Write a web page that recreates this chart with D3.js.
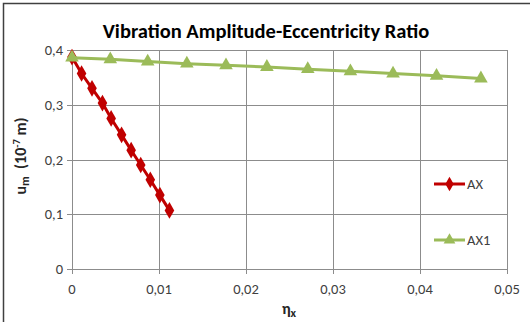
<!DOCTYPE html>
<html>
<head>
<meta charset="utf-8">
<script src="https://cdn.jsdelivr.net/npm/d3@7"></script>
<style>
  html, body { margin: 0; padding: 0; background: #fff; }
  svg { display: block; font-family: Carlito, Calibri, "Open Sans", sans-serif; }
</style>
</head>
<body>
<div id="chart"></div>
<script>
/* Vibration amplitude vs eccentricity ratio, two series (AX, AX1) */
var xTicks = [0, 0.01, 0.02, 0.03, 0.04, 0.05];
var yTicks = [0, 0.1, 0.2, 0.3, 0.4];

var axX = [0, 0.0011, 0.0023, 0.0035, 0.0045, 0.0057, 0.0068, 0.0079, 0.009, 0.0101, 0.0112];
var axY = [0.387, 0.357, 0.330, 0.303, 0.275, 0.245, 0.217, 0.190, 0.163, 0.135, 0.107];

var ax1X = [0, 0.0044, 0.0087, 0.0132, 0.0177, 0.0224, 0.0271, 0.032, 0.0369, 0.0419, 0.047];
var ax1Y = [0.386, 0.383, 0.379, 0.375, 0.372, 0.369, 0.365, 0.361, 0.357, 0.353, 0.348];

var series = [
  { name: 'AX', xs: axX, ys: axY, color: '#c00000', marker: d3.symbolDiamond, size: 80 },
  { name: 'AX1', xs: ax1X, ys: ax1Y, color: '#9bbb59', marker: d3.symbolTriangle, size: 80 }
];

(function () {
  var W = 530, H = 322;
  var fmt = function (v) { return v === 0 ? '0' : String(v).replace('.', ','); };

  var svg = d3.select('#chart').append('svg').attr('width', W).attr('height', H);

  /* outer chart frame (cropped at right/bottom) */
  svg.append('rect')
    .attr('x', 3.5).attr('y', 3.5).attr('width', W + 10).attr('height', H + 10)
    .attr('fill', '#fff').attr('stroke', '#404040').attr('stroke-width', 1.5);

  var x = d3.scaleLinear().domain([0, 0.05]).range([72, 507]);
  var y = d3.scaleLinear().domain([0, 0.4]).range([269, 50]);

  var grid = svg.append('g');
  grid.selectAll('line.v').data(xTicks).enter().append('line')
    .attr('x1', function (d) { return Math.round(x(d)) + 0.5; })
    .attr('x2', function (d) { return Math.round(x(d)) + 0.5; })
    .attr('y1', y(0.4)).attr('y2', y(0) + 5)
    .attr('stroke', '#8c8c8c').attr('stroke-width', 1);
  grid.selectAll('line.h').data(yTicks).enter().append('line')
    .attr('y1', function (d) { return Math.round(y(d)) + 0.5; })
    .attr('y2', function (d) { return Math.round(y(d)) + 0.5; })
    .attr('x1', x(0) - 5).attr('x2', x(0.05))
    .attr('stroke', '#8c8c8c').attr('stroke-width', 1);

  /* tick labels */
  svg.append('g').selectAll('text').data(xTicks).enter().append('text')
    .attr('x', function (d) { return x(d); }).attr('y', 294)
    .attr('text-anchor', 'middle')
    .style('font-size', '14.5px').style('fill', '#404040')
    .text(fmt);
  svg.append('g').selectAll('text').data(yTicks).enter().append('text')
    .attr('x', 63).attr('y', function (d) { return y(d) + 5; })
    .attr('text-anchor', 'end')
    .style('font-size', '14.5px').style('fill', '#404040')
    .text(fmt);

  /* title and axis titles */
  svg.append('text')
    .attr('x', 266).attr('y', 38).attr('text-anchor', 'middle')
    .style('font-size', '20.5px').style('font-weight', 'bold').style('fill', '#000')
    .text('Vibration Amplitude-Eccentricity Ratio');

  var xt = svg.append('text')
    .attr('x', 289).attr('y', 314).attr('text-anchor', 'middle')
    .style('font-size', '16px').style('font-weight', 'bold').style('fill', '#262626');
  xt.append('tspan').text('\u03b7');
  xt.append('tspan').attr('dy', 3).style('font-size', '12px').text('x');

  var yt = svg.append('text')
    .attr('transform', 'translate(26,156) rotate(-90)')
    .attr('text-anchor', 'middle')
    .style('font-size', '16px').style('font-weight', 'bold').style('fill', '#262626');
  yt.append('tspan').text('u');
  yt.append('tspan').attr('dy', 3).style('font-size', '12px').text('m');
  yt.append('tspan').attr('dy', -3).text('\u00a0 (10');
  yt.append('tspan').attr('dy', -6).style('font-size', '10.5px').text('-7');
  yt.append('tspan').attr('dy', 6).text(' m)');

  /* series */
  var line = d3.line()
    .x(function (d) { return x(d[0]); })
    .y(function (d) { return y(d[1]); });

  series.forEach(function (s) {
    var pts = s.xs.map(function (v, i) { return [v, s.ys[i]]; });
    var g = svg.append('g');
    g.append('path').datum(pts)
      .attr('d', line).attr('fill', 'none')
      .attr('stroke', s.color).attr('stroke-width', 3);
    g.selectAll('path.m').data(pts).enter().append('path')
      .attr('class', 'm')
      .attr('d', d3.symbol().type(s.marker).size(s.size))
      .attr('transform', function (d) { return 'translate(' + x(d[0]) + ',' + y(d[1]) + ')'; })
      .attr('fill', s.color);
  });

  /* legend */
  var legY = [184, 240];
  series.forEach(function (s, i) {
    var g = svg.append('g').attr('transform', 'translate(434,' + legY[i] + ')');
    g.append('line').attr('x1', 0).attr('x2', 31).attr('y1', 0).attr('y2', 0)
      .attr('stroke', s.color).attr('stroke-width', 3);
    g.append('path').attr('d', d3.symbol().type(s.marker).size(60))
      .attr('transform', 'translate(15.5,0)').attr('fill', s.color);
    g.append('text').attr('x', 33).attr('y', 5)
      .style('font-size', '14.5px').style('fill', '#404040').text(s.name);
  });
})();
</script>
</body>
</html>
